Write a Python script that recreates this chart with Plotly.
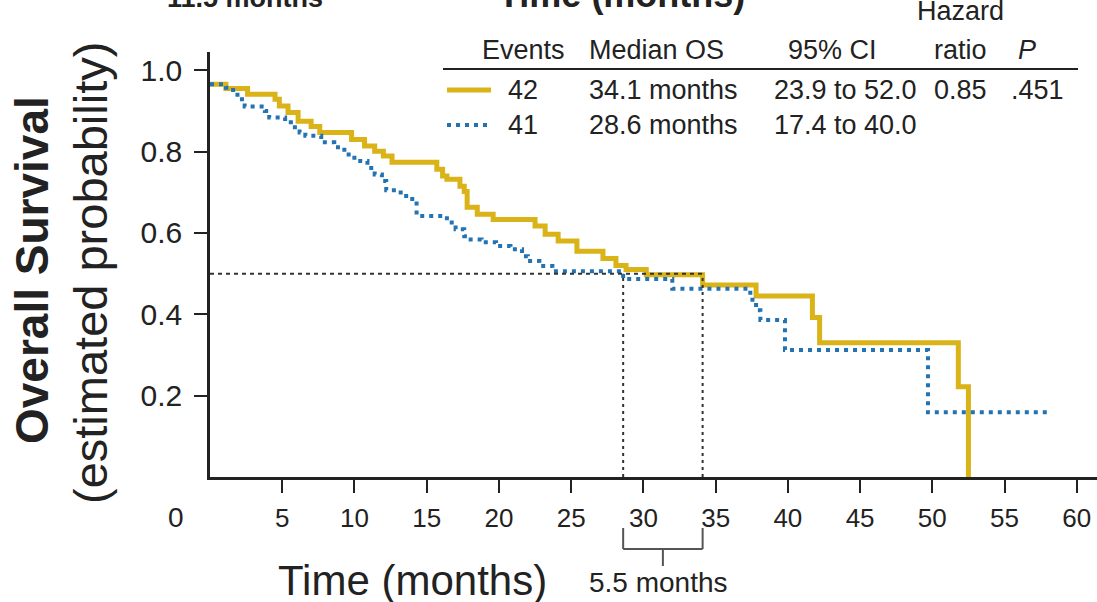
import plotly.graph_objects as go

# ---- Kaplan-Meier estimates (months, survival after each step) ----
arm_a_times = [0, 1.1, 2.6, 4.5, 4.8, 5.4, 6.1, 7.0, 7.6, 9.8, 10.7, 11.4, 12.0,
               12.6, 15.7, 16.1, 16.4, 17.3, 17.6, 17.8, 18.5, 19.6, 22.5, 23.2,
               24.1, 25.4, 27.2, 28.1, 28.8, 30.2, 34.1, 37.8, 41.7, 42.2, 51.8, 52.5]
arm_a_surv = [0.966, 0.955, 0.941, 0.929, 0.912, 0.896, 0.875, 0.862, 0.847, 0.830,
              0.814, 0.801, 0.789, 0.774, 0.757, 0.740, 0.732, 0.715, 0.702, 0.663,
              0.646, 0.633, 0.617, 0.597, 0.580, 0.555, 0.537, 0.520, 0.510, 0.497,
              0.472, 0.445, 0.392, 0.330, 0.222, 0.0]

arm_b_times = [0, 1.1, 1.6, 1.9, 2.4, 3.8, 4.1, 5.2, 5.6, 6.2, 6.6, 7.7, 8.6, 9.3,
               9.8, 10.4, 10.9, 11.4, 11.9, 12.2, 13.2, 14.0, 14.3, 16.4, 17.0, 17.6,
               17.8, 18.8, 19.8, 20.8, 21.6, 22.0, 22.8, 23.7, 28.6, 32.0, 37.4, 37.8,
               38.1, 39.8, 49.7, 58.1]
arm_b_surv = [0.966, 0.957, 0.946, 0.929, 0.911, 0.900, 0.884, 0.872, 0.860, 0.847,
              0.839, 0.823, 0.811, 0.793, 0.785, 0.777, 0.760, 0.744, 0.728, 0.705,
              0.691, 0.678, 0.642, 0.626, 0.609, 0.592, 0.584, 0.577, 0.568, 0.560,
              0.543, 0.531, 0.519, 0.506, 0.487, 0.463, 0.436, 0.410, 0.386, 0.312,
              0.159, 0.159]

medians = [34.1, 28.6]          # median OS, arm A / arm B
median_gap_label = "5.5 months"

x_ticks = [5, 10, 15, 20, 25, 30, 35, 40, 45, 50, 55, 60]
y_ticks = [0.2, 0.4, 0.6, 0.8, 1.0]

table_header = ["Events", "Median OS", "95% CI", "ratio", "P"]
table_rows = [
    ["42", "34.1 months", "23.9 to 52.0", "0.85", ".451"],
    ["41", "28.6 months", "17.4 to 40.0", "", ""],
]

# ---- styling ----
YELLOW = "#D9B318"
BLUE = "#2373B3"
INK = "#222222"
FONT = "Liberation Sans, Arial, sans-serif"

W, H = 1097, 602
ML, MR, MT, MB = 210, 0, 52, 125
X_RANGE = [0, 61.4]
Y_RANGE = [0, 1.045]
PW, PH = W - ML - MR, H - MT - MB


def px(xp):
    """pixel column -> paper x"""
    return (xp - ML) / PW


def py(yp):
    """pixel row -> paper y"""
    return (H - MB - yp) / PH


def tx(t):
    """data x -> paper x"""
    return (t - X_RANGE[0]) / (X_RANGE[1] - X_RANGE[0])


def label(text, x, y, size, xanchor="center", angle=0):
    return dict(text=text, xref="paper", yref="paper", x=x, y=y,
                xanchor=xanchor, yanchor="middle", textangle=angle,
                showarrow=False, font=dict(size=size, color=INK, family=FONT))


fig = go.Figure()

fig.add_trace(go.Scatter(
    x=arm_a_times, y=arm_a_surv, mode="lines", line_shape="hv",
    line=dict(color=YELLOW, width=5), hoverinfo="skip", showlegend=False))
fig.add_trace(go.Scatter(
    x=arm_b_times, y=arm_b_surv, mode="lines", line_shape="hv",
    line=dict(color=BLUE, width=4, dash="4px,5px"), hoverinfo="skip", showlegend=False))

# median reference lines
fig.add_trace(go.Scatter(
    x=[0, max(medians)], y=[0.5, 0.5], mode="lines",
    line=dict(color="#333333", width=2, dash="4px,4px"), hoverinfo="skip", showlegend=False))
for m in medians:
    fig.add_trace(go.Scatter(
        x=[m, m], y=[0, 0.5], mode="lines",
        line=dict(color="#333333", width=2, dash="3px,4px"), hoverinfo="skip", showlegend=False))

shapes = []
annotations = []

# bracket spanning the two medians below the axis
lo, hi = min(medians), max(medians)
mid = (lo + hi) / 2
br = dict(type="line", xref="paper", yref="paper", line=dict(color="#555555", width=2))
shapes.append({**br, "x0": tx(lo), "x1": tx(lo), "y0": py(528), "y1": py(549)})
shapes.append({**br, "x0": tx(hi), "x1": tx(hi), "y0": py(528), "y1": py(549)})
shapes.append({**br, "x0": tx(lo), "x1": tx(hi), "y0": py(549), "y1": py(549)})
shapes.append({**br, "x0": tx(mid), "x1": tx(mid), "y0": py(549), "y1": py(566)})
annotations.append(label(median_gap_label, tx(mid) - 0.005, py(582), 28))

# axis titles
annotations.append(label("Time (months)", px(412), py(580), 42))
annotations.append(label("<b>Overall Survival</b>", px(32), py(270), 46, angle=-90))
annotations.append(label("(estimated probability)", px(90), py(273), 47, angle=-90))
annotations.append(label("0", px(176), py(517), 28))

# headings running off the top edge
annotations.append(label("<b>Time (months)</b>", px(621), py(-6), 36))
annotations.append(label("<b>11.5 months</b>", px(245), py(-2), 27))

# summary table
hdr_y = py(50)
annotations.append(label("Hazard", px(960), py(11), 27))
annotations.append(label(table_header[0], px(523), hdr_y, 27))
annotations.append(label(table_header[1], px(587), hdr_y, 27, xanchor="left"))
annotations.append(label(table_header[2], px(832), hdr_y, 27))
annotations.append(label(table_header[3], px(960), hdr_y, 27))
annotations.append(label("<i>" + table_header[4] + "</i>", px(1027), hdr_y, 27))
shapes.append(dict(type="line", xref="paper", yref="paper", x0=px(443), x1=px(1078),
                   y0=py(69), y1=py(69), line=dict(color=INK, width=2)))

row_y = [90, 125]
col_x = [(523, "center"), (587, "left"), (772, "left"), (960, "center"), (1037, "center")]
for r, row in enumerate(table_rows):
    for (cx, anchor), cell in zip(col_x, row):
        if cell:
            annotations.append(label(cell, px(cx), py(row_y[r]), 27, xanchor=anchor))

shapes.append(dict(type="line", xref="paper", yref="paper", x0=px(447), x1=px(491),
                   y0=py(row_y[0]), y1=py(row_y[0]), line=dict(color=YELLOW, width=5)))
shapes.append(dict(type="line", xref="paper", yref="paper", x0=px(447), x1=px(491),
                   y0=py(row_y[1]), y1=py(row_y[1]),
                   line=dict(color=BLUE, width=4, dash="4px,5px")))

fig.update_layout(
    width=W, height=H,
    margin=dict(l=ML, r=MR, t=MT, b=MB),
    paper_bgcolor="white", plot_bgcolor="white",
    showlegend=False,
    shapes=shapes, annotations=annotations,
    font=dict(family=FONT, color=INK),
)
fig.update_xaxes(
    range=X_RANGE, tickvals=x_ticks, ticktext=[str(v) for v in x_ticks],
    showgrid=False, zeroline=False, showline=True, linecolor=INK, linewidth=2.5,
    ticks="outside", ticklen=13, tickwidth=2, tickcolor=INK,
    tickfont=dict(size=26, color=INK, family=FONT), ticklabelstandoff=3,
)
fig.update_yaxes(
    range=Y_RANGE, tickvals=y_ticks, ticktext=[f"{v:.1f}" for v in y_ticks],
    showgrid=False, zeroline=False, showline=True, linecolor=INK, linewidth=2.5,
    ticks="outside", ticklen=13, tickwidth=2, tickcolor=INK,
    tickfont=dict(size=30, color=INK, family=FONT), ticklabelstandoff=6,
)

fig.write_html("out.html")
